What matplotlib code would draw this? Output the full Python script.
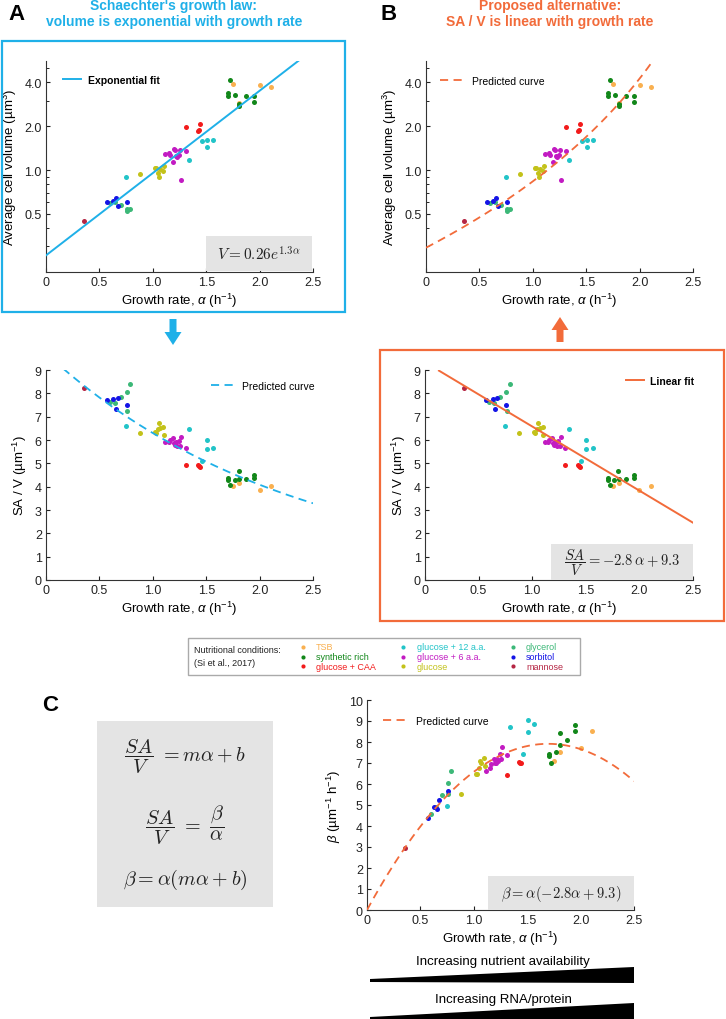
import numpy as np
import matplotlib.pyplot as plt
from matplotlib.patches import Rectangle, Polygon
from matplotlib.lines import Line2D
from matplotlib.ticker import LogLocator, NullFormatter

plt.rcParams['font.family'] = ['Liberation Sans', 'DejaVu Sans']
plt.rcParams['mathtext.fontset'] = 'custom'
plt.rcParams['mathtext.rm'] = 'Liberation Sans'
plt.rcParams['mathtext.it'] = 'Liberation Sans:italic'
plt.rcParams['mathtext.bf'] = 'Liberation Sans:bold'

# nutritional conditions (Si et al., 2017)
conditions = ['TSB', 'synthetic rich', 'glucose + CAA', 'glucose + 12 a.a.', 'glucose + 6 a.a.',
              'glucose', 'glycerol', 'sorbitol', 'mannose']
cond_colors = ['#f9b050', '#12871a', '#f21b1b', '#22c4c8', '#c21bc2',
               '#c3c21a', '#3cb878', '#1414e6', '#b52644']

growth_rate = {
    'TSB': [1.755, 1.81, 2.0, 2.11],
    'synthetic rich': [1.705, 1.705, 1.725, 1.765, 1.805, 1.81, 1.875, 1.945, 1.95],
    'glucose + CAA': [1.31, 1.425, 1.435, 1.445],
    'glucose + 12 a.a.': [0.75, 1.342, 1.457, 1.504, 1.504, 1.565],
    'glucose + 6 a.a.': [1.115, 1.15, 1.16, 1.185, 1.195, 1.205, 1.215, 1.23, 1.245, 1.255, 1.265, 1.31],
    'glucose': [0.88, 1.02, 1.03, 1.045, 1.055, 1.07, 1.10, 1.105],
    'glycerol': [0.60, 0.645, 0.70, 0.755, 0.762, 0.79],
    'sorbitol': [0.57, 0.63, 0.655, 0.672, 0.755],
    'mannose': [0.36],
}
sa_over_v = {
    'TSB': [4.04, 4.15, 3.85, 4.05],
    'synthetic rich': [4.36, 4.29, 4.07, 4.27, 4.66, 4.35, 4.31, 4.38, 4.51],
    'glucose + CAA': [4.92, 4.95, 4.88, 4.84],
    'glucose + 12 a.a.': [6.62, 6.48, 5.11, 6.02, 5.62, 5.66],
    'glucose + 6 a.a.': [5.93, 5.90, 5.99, 6.08, 5.86, 5.80, 5.93, 5.76, 5.96, 5.73, 6.15, 5.65],
    'glucose': [6.29, 6.35, 6.28, 6.49, 6.72, 6.53, 6.56, 6.22],
    'glycerol': [7.65, 7.57, 7.84, 8.04, 7.23, 8.39],
    'sorbitol': [7.70, 7.77, 7.35, 7.79, 7.52],
    'mannose': [8.22],
}
volume = {
    'TSB': [3.89, 2.88, 3.85, 3.70],
    'synthetic rich': [3.24, 3.40, 4.17, 3.26, 2.74, 2.85, 3.22, 3.24, 2.93],
    'glucose + CAA': [1.96, 1.86, 1.88, 2.07],
    'glucose + 12 a.a.': [0.90, 1.18, 1.59, 1.43, 1.62, 1.61],
    'glucose + 6 a.a.': [1.29, 1.30, 1.26, 1.14, 1.39, 1.37, 1.25, 1.22, 1.27, 1.37, 0.86, 1.36],
    'glucose': [0.94, 1.04, 1.03, 0.96, 0.89, 1.02, 0.99, 1.07],
    'glycerol': [0.59, 0.605, 0.58, 0.52, 0.54, 0.54],
    'sorbitol': [0.60, 0.61, 0.64, 0.57, 0.60],
    'mannose': [0.45],
}

# fit parameters
exp_a, exp_k = 0.26, 1.3        # V = a exp(k alpha)
lin_m, lin_b = -2.75, 9.33      # SA/V = m alpha + b
shape_gamma = 6.2               # SA = gamma V^(2/3)

BLUE = '#1fb0e8'
ORANGE = '#f26b3a'
GRAY_BOX = '#e4e4e4'
W, H = 726, 1020

fig = plt.figure(figsize=(W / 100, H / 100), dpi=100)


def rect(l, t, r, b):
    return [l / W, 1 - b / H, (r - l) / W, (b - t) / H]


def fpt(x, y):
    return (x / W, 1 - y / H)


def style(ax):
    for s in ['top', 'right']:
        ax.spines[s].set_visible(False)
    for s in ['left', 'bottom']:
        ax.spines[s].set_linewidth(0.8)
        ax.spines[s].set_color('#333333')
    ax.set_xlim(0, 2.5)
    ax.set_xticks([0, 0.5, 1.0, 1.5, 2.0, 2.5], ['0', '0.5', '1.0', '1.5', '2.0', '2.5'])
    ax.tick_params(direction='in', length=3, width=0.8, labelsize=9, colors='#222222', pad=3)
    ax.tick_params(which='minor', direction='in', length=2, width=0.6)
    ax.set_xlabel(r'Growth rate, $\alpha$ (h$^{-1}$)', fontsize=9.5, labelpad=2)


def scatter_all(ax, yvals):
    for cond, col in zip(conditions, cond_colors):
        ax.scatter(growth_rate[cond], yvals(cond), s=13, color=col, lw=0, zorder=2)


def add_legend(ax, pos, handle, label, x, y, hl, pad, bold=False):
    l, t, r, b = pos
    ax.legend([handle], [label], loc='center left',
              bbox_to_anchor=((x - l) / (r - l), 1 - (y - t) / (b - t)),
              frameon=False, borderpad=0, borderaxespad=0, handlelength=hl, handletextpad=pad,
              prop={'size': 7.5, 'weight': 'bold' if bold else 'normal'})


def gray_box(l, t, r, b):
    fig.add_artist(Rectangle(fpt(l, b), (r - l) / W, (b - t) / H, transform=fig.transFigure,
                             fc=GRAY_BOX, ec='none', zorder=1))


def eq_text(x, y, s, size):
    fig.text(*fpt(x, y), s, ha='center', va='center', fontsize=size, math_fontfamily='cm',
             color='#222222', zorder=3)


def volume_axis(ax):
    ax.set_yscale('log')
    ax.set_ylim(0.2, 5.6)
    ax.set_yticks([0.5, 1, 2, 4], ['0.5', '1.0', '2.0', '4.0'])
    ax.yaxis.set_minor_locator(LogLocator(base=10, subs=np.arange(2, 10)))
    ax.yaxis.set_minor_formatter(NullFormatter())
    ax.set_ylabel('Average cell volume (µm$^{3}$)', fontsize=9.5, labelpad=4)


def sav_axis(ax):
    ax.set_ylim(0, 9)
    ax.set_yticks(range(10))
    ax.set_ylabel('SA / V (µm$^{-1}$)', fontsize=9.5, labelpad=4)


alpha_grid = np.linspace(0, 2.5, 400)
dash = (0, (4.5, 3))

# ---------- A top: volume vs growth rate, exponential fit ----------
pos = (46, 62, 313, 273)
ax = fig.add_axes(rect(*pos))
style(ax)
volume_axis(ax)
scatter_all(ax, lambda c: volume[c])
ax.plot(alpha_grid, exp_a * np.exp(exp_k * alpha_grid), color=BLUE, lw=1.4, zorder=3)
add_legend(ax, pos, Line2D([], [], color=BLUE, lw=1.4), 'Exponential fit', 63, 81, 1.7, 0.7, bold=True)

# ---------- B top: volume vs growth rate, predicted curve ----------
pos = (426, 62, 693, 273)
ax = fig.add_axes(rect(*pos))
style(ax)
volume_axis(ax)
scatter_all(ax, lambda c: volume[c])
ax.plot(alpha_grid, (shape_gamma / (lin_b + lin_m * alpha_grid)) ** 3, color=ORANGE, lw=1.3,
        ls=dash, zorder=3)
add_legend(ax, pos, Line2D([], [], color=ORANGE, lw=1.3, ls=dash), 'Predicted curve', 440, 82, 2.3, 0.8)

# ---------- A bottom: SA/V vs growth rate, predicted from exponential ----------
pos = (46, 371, 313, 581)
ax = fig.add_axes(rect(*pos))
style(ax)
sav_axis(ax)
scatter_all(ax, lambda c: sa_over_v[c])
a2 = np.linspace(0.16, 2.5, 300)
ax.plot(a2, shape_gamma * (exp_a * np.exp(exp_k * a2)) ** (-1 / 3), color=BLUE, lw=1.3, ls=dash, zorder=3)
add_legend(ax, pos, Line2D([], [], color=BLUE, lw=1.3, ls=dash), 'Predicted curve', 211, 387, 2.4, 0.6)

# ---------- B bottom: SA/V vs growth rate, linear fit ----------
pos = (425, 371, 693, 581)
ax = fig.add_axes(rect(*pos))
style(ax)
sav_axis(ax)
scatter_all(ax, lambda c: sa_over_v[c])
a3 = np.linspace(0.13, 2.5, 100)
ax.plot(a3, lin_m * a3 + lin_b, color=ORANGE, lw=1.4, zorder=3)
add_legend(ax, pos, Line2D([], [], color=ORANGE, lw=1.4), 'Linear fit', 626, 382, 1.7, 0.6, bold=True)

# ---------- C: beta vs growth rate ----------
pos = (367, 701, 634, 911)
ax = fig.add_axes(rect(*pos))
style(ax)
ax.set_ylim(0, 10)
ax.set_yticks(range(11))
ax.set_ylabel(r'$\beta$ (µm$^{-1}$ h$^{-1}$)', fontsize=9.5, labelpad=4)
scatter_all(ax, lambda c: np.array(growth_rate[c]) * np.array(sa_over_v[c]))
ax.plot(alpha_grid, alpha_grid * (lin_m * alpha_grid + lin_b), color=ORANGE, lw=1.3, ls=dash, zorder=3)
add_legend(ax, pos, Line2D([], [], color=ORANGE, lw=1.3, ls=dash), 'Predicted curve', 383, 722, 2.3, 0.9)

# ---------- frames, arrows, titles ----------
fig.add_artist(Rectangle(fpt(2, 313), 343 / W, 271 / H, transform=fig.transFigure,
                         fill=False, ec=BLUE, lw=1.6, zorder=4))
fig.add_artist(Rectangle(fpt(380, 622), 344 / W, 271 / H, transform=fig.transFigure,
                         fill=False, ec=ORANGE, lw=1.6, zorder=4))


def arrow(cx, tail, tip, color):
    d = 1 if tip > tail else -1
    neck = tip - d * 13
    pts = [(cx - 3.5, tail), (cx + 3.5, tail), (cx + 3.5, neck), (cx + 8.5, neck), (cx, tip),
           (cx - 8.5, neck), (cx - 3.5, neck)]
    fig.add_artist(Polygon([fpt(*p) for p in pts], closed=True, transform=fig.transFigure,
                           fc=color, ec='none'))


arrow(173, 320, 346, BLUE)
arrow(560, 343, 318, ORANGE)

fig.text(*fpt(8, 15), 'A', fontsize=16, fontweight='bold', va='center', ha='left')
fig.text(*fpt(381, 15), 'B', fontsize=16, fontweight='bold', va='center', ha='left')
fig.text(*fpt(42, 706), 'C', fontsize=16, fontweight='bold', va='center', ha='left')
fig.text(*fpt(174, 14), "Schaechter's growth law:\nvolume is exponential with growth rate",
         ha='center', va='center', color=BLUE, fontsize=10, fontweight='bold', linespacing=1.15)
fig.text(*fpt(550, 14), 'Proposed alternative:\nSA / V is linear with growth rate',
         ha='center', va='center', color=ORANGE, fontsize=10, fontweight='bold', linespacing=1.15)

# ---------- equation boxes ----------
gray_box(206, 237, 312, 272)
eq_text(259, 255, r'$V = 0.26e^{1.3\alpha}$', 11)
gray_box(551, 545, 693, 581)
eq_text(622, 563, r'$\dfrac{SA}{V} = -2.8\,\alpha + 9.3$', 10.5)
gray_box(488, 877, 634, 911)
eq_text(561, 894, r'$\beta = \alpha(-2.8\alpha + 9.3)$', 10.5)
gray_box(97, 722, 273, 908)
eq_text(185, 757, r'$\dfrac{SA}{V}\ = m\alpha + b$', 14.5)
eq_text(185, 825, r'$\dfrac{SA}{V}\ =\ \dfrac{\beta}{\alpha}$', 14.5)
eq_text(185, 880, r'$\beta = \alpha(m\alpha + b)$', 14.5)

# ---------- nutrient legend ----------
fig.add_artist(Rectangle(fpt(188, 676), (580 - 188) / W, 37 / H, transform=fig.transFigure,
                         fill=False, ec='#aaaaaa', lw=1.0))
fig.text(*fpt(194, 651), 'Nutritional conditions:', fontsize=6.5, va='center', color='#222222')
fig.text(*fpt(194, 663), '(Si et al., 2017)', fontsize=6.5, va='center', color='#222222')
col_x = [(303, 316), (403, 417), (513, 526)]
row_y = [648, 657.5, 667]
for i, (cond, col) in enumerate(zip(conditions, cond_colors)):
    mx, tx = col_x[i // 3]
    y = row_y[i % 3]
    fig.add_artist(Line2D([mx / W], [1 - y / H], marker='o', ms=3, color=col, mec='none',
                          transform=fig.transFigure))
    fig.text(*fpt(tx, y), cond, fontsize=6.5, va='center', color=col)

# ---------- wedges ----------
fig.text(*fpt(503, 962), 'Increasing nutrient availability', ha='center', va='center', fontsize=9.5)
fig.add_artist(Polygon([fpt(370, 980), fpt(634, 968), fpt(634, 984), fpt(370, 983)], closed=True,
                       transform=fig.transFigure, fc='black', ec='none'))
fig.text(*fpt(503, 1000), 'Increasing RNA/protein', ha='center', va='center', fontsize=9.5)
fig.add_artist(Polygon([fpt(370, 1018), fpt(634, 1004), fpt(634, 1022), fpt(370, 1022)], closed=True,
                       transform=fig.transFigure, fc='black', ec='none'))

fig.savefig('out.png', dpi=100)
